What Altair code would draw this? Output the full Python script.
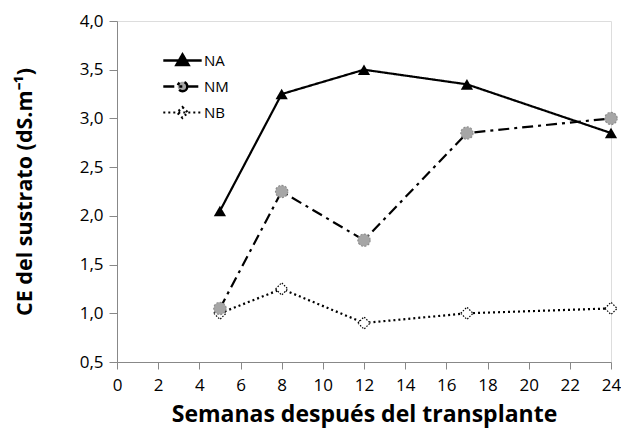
import altair as alt
import pandas as pd

weeks = [5, 8, 12, 17, 24]
na_vals = [2.05, 3.25, 3.5, 3.35, 2.85]
nm_vals = [1.05, 2.25, 1.75, 2.85, 3.0]
nb_vals = [1.0, 1.25, 0.9, 1.0, 1.05]
series = ["NA", "NM", "NB"]

rows = []
for name, vals in zip(series, [na_vals, nm_vals, nb_vals]):
    for w, v in zip(weeks, vals):
        rows.append({"semana": w, "ce": v, "serie": name})
df = pd.DataFrame(rows)

FONT = "Open Sans"

x_enc = alt.X("semana:Q", scale=alt.Scale(domain=[0, 24], nice=False),
              axis=alt.Axis(values=list(range(0, 25, 2)), title="Semanas después del transplante",
                            grid=False, tickSize=7, labelPadding=8, labelFontSize=17,
                            titleFontSize=23, titlePadding=10, labelFlush=False))
y_enc = alt.Y("ce:Q", scale=alt.Scale(domain=[0.5, 4.0], nice=False, zero=False),
              axis=alt.Axis(values=[0.5, 1.0, 1.5, 2.0, 2.5, 3.0, 3.5, 4.0],
                            labelExpr="replace(format(datum.value, '.1f'), '.', ',')",
                            title="CE del sustrato (dS.m⁻¹)", grid=False, tickSize=8,
                            labelPadding=6, labelFontSize=17, titleFontSize=21.5, titlePadding=43))

dash_scale = alt.Scale(domain=series, range=[[1, 0], [11, 5, 3, 5], [2, 3]])

leg = alt.Legend(title=None, orient="none", legendX=38, legendY=32,
                 symbolSize=144, labelFontSize=15, labelFont=FONT,
                 symbolStrokeWidth=2, rowPadding=5, labelOffset=14,
                 symbolOffset=20)

base = alt.Chart(df)

lines = base.mark_line(color="black", strokeWidth=2.2).encode(
    x=x_enc, y=y_enc,
    strokeDash=alt.StrokeDash("serie:N", scale=dash_scale, legend=leg),
    strokeWidth=alt.StrokeWidth("serie:N", scale=alt.Scale(domain=series, range=[2.6, 2.2, 2.2]), legend=None),
    detail="serie:N",
)

pts_na = base.transform_filter("datum.serie == 'NA'").mark_point(
    shape="triangle-up", filled=True, color="black", size=150, opacity=1).encode(x="semana:Q", y="ce:Q")
pts_nm = base.transform_filter("datum.serie == 'NM'").mark_point(
    shape="circle", filled=True, fill="#a6a6a6", stroke="#8c8c8c", strokeWidth=1.2, strokeDash=[2, 1.5],
    size=150, opacity=1).encode(x="semana:Q", y="ce:Q")
pts_nb = base.transform_filter("datum.serie == 'NB'").mark_point(
    shape="diamond", filled=True, fill="white", stroke="black", strokeWidth=1.2, strokeDash=[1.5, 1.5],
    size=150, opacity=1).encode(x="semana:Q", y="ce:Q")

leg_shapes = [
    "M-3.2,0H3.2M0,-1L1,0.75L-1,0.75Z",
    "M-3.2,0H3.2M0.8,0A0.8,0.8 0 1,1 -0.8,0A0.8,0.8 0 1,1 0.8,0Z",
    "M-3.2,0H3.2M0,-0.9L0.9,0L0,0.9L-0.9,0Z",
]
legend_layer = base.transform_filter("false").mark_point(filled=True, opacity=1).encode(
    x="semana:Q", y="ce:Q",
    shape=alt.Shape("serie:N", scale=alt.Scale(domain=series, range=leg_shapes), legend=leg),
    fill=alt.Fill("serie:N", scale=alt.Scale(domain=series, range=["black", "#a6a6a6", "white"]), legend=leg),
    stroke=alt.Stroke("serie:N", scale=alt.Scale(domain=series, range=["black", "black", "black"]), legend=leg),
    strokeDash=alt.StrokeDash("serie:N", scale=dash_scale, legend=leg),
)

chart = alt.layer(lines, pts_nb, pts_nm, pts_na, legend_layer).properties(
    width=494, height=341,
    autosize=alt.AutoSizeParams(type="none"),
    padding={"left": 109, "top": 13, "right": 10, "bottom": 74}
).configure_view(stroke=None).configure_axis(
    domainColor="black", tickColor="black", labelColor="black", titleColor="black",
    labelFont=FONT, titleFont=FONT, titleFontWeight="bold", domainWidth=1.2, tickWidth=1.2
).configure(font=FONT)

chart.save("out.html", embed_options={"renderer": "svg", "actions": False})
